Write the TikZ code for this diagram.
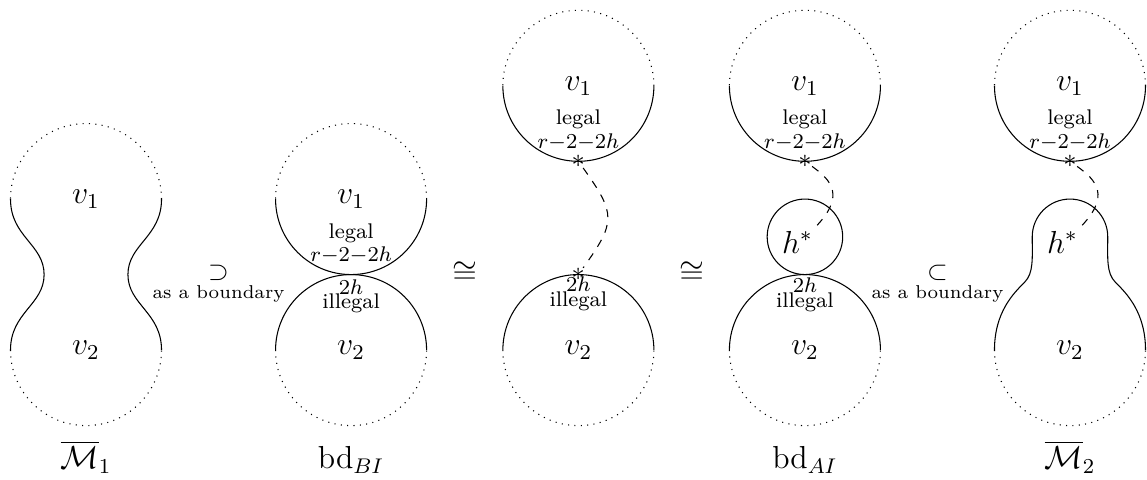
\documentclass[tikz,border=0pt]{standalone}
\usepackage{amsmath}
\usepackage{amssymb}
\usepackage{tikz}
\usetikzlibrary{calc}

\begin{document}
\begin{tikzpicture}[
  bnd/.style    = {dotted},
  link/.style   = {dashed},
  vtx/.style    = {font=\large, inner sep=1pt},
  lbl/.style    = {font=\footnotesize, inner sep=0pt},
  ast/.style    = {inner sep=0pt},
  hst/.style    = {font=\large, inner sep=0pt},
  rel/.style    = {anchor=base, inner sep=0pt},
  figname/.style = {font=\large, anchor=base, inner sep=0pt}
]
\useasboundingbox (-1.139,-1.709) rectangle (14.05,4.636);

% M_1
\draw[bnd] (1,2) arc (0:180:1);
\draw[bnd] (-1,0) arc (180:360:1);
\draw (-1,2) .. controls (-1,1.5) and (-0.555,1.4) .. (-0.555,1)
             .. controls (-0.555,0.6) and (-1,0.5) .. (-1,0);
\draw (1,2) .. controls (1,1.5) and (0.555,1.4) .. (0.555,1)
            .. controls (0.555,0.6) and (1,0.5) .. (1,0);
\node[vtx] (v1a) at (0,2) {$v_1$};
\node[vtx] (v2a) at (0,0) {$v_2$};
\node[figname] (m1) at (0,-1.57) {$\overline{\mathcal{M}}_1$};

\node[rel] (sup1) at (1.755,0.93) {$\underset{\text{as a boundary}}{\supset}$};

% bd_BI
\draw[bnd] (4.51,2) arc (0:180:1);
\draw (2.51,2) arc (180:360:1);
\draw (2.51,0) arc (180:0:1);
\draw[bnd] (2.51,0) arc (180:360:1);
\node[vtx] (v1b) at (3.51,2) {$v_1$};
\node[vtx] (v2b) at (3.51,0) {$v_2$};
\node[lbl] (legb) at (3.51,1.54) {legal};
\node[lbl] (rb) at (3.51,1.26) {$r{-}2{-}2h$};
\node[lbl] (hb) at (3.51,0.84) {$2h$};
\node[lbl] (illb) at (3.51,0.62) {illegal};
\node[figname] (bdbi) at (3.51,-1.57) {$\mathrm{bd}_{BI}$};

\node[vtx] (iso1) at (5.015,1.02) {$\cong$};

% middle
\draw[bnd] (7.52,3.5) arc (0:180:1);
\draw (5.52,3.5) arc (180:360:1);
\draw (5.52,0) arc (180:0:1);
\draw[bnd] (5.52,0) arc (180:360:1);
\node[vtx] (v1c) at (6.52,3.5) {$v_1$};
\node[vtx] (v2c) at (6.52,0) {$v_2$};
\node[lbl] (legc) at (6.52,3.05) {legal};
\node[lbl] (rc) at (6.52,2.75) {$r{-}2{-}2h$};
\node[lbl] (hc) at (6.52,0.87) {$2h$};
\node[lbl] (illc) at (6.52,0.65) {illegal};
\node[ast] (sc1) at (6.52,2.5) {$*$};
\node[ast] (sc2) at (6.52,1) {$*$};
\draw[link] (sc1) .. controls +(0.5,-0.7) and +(0.5,0.7) .. (sc2);

\node[vtx] (iso2) at (8.02,1.02) {$\cong$};

% bd_AI
\draw[bnd] (10.52,3.5) arc (0:180:1);
\draw (8.52,3.5) arc (180:360:1);
\draw (8.52,0) arc (180:0:1);
\draw[bnd] (8.52,0) arc (180:360:1);
\draw (9.52,1.5) circle (0.5);
\node[vtx] (v1d) at (9.52,3.5) {$v_1$};
\node[vtx] (v2d) at (9.52,0) {$v_2$};
\node[lbl] (legd) at (9.52,3.06) {legal};
\node[lbl] (rd) at (9.52,2.75) {$r{-}2{-}2h$};
\node[lbl] (hd) at (9.52,0.86) {$2h$};
\node[lbl] (illd) at (9.52,0.63) {illegal};
\node[hst] (hd1) at (9.42,1.43) {$h^*$};
\node[ast] (sd) at (9.52,2.5) {$*$};
\coordinate (ed) at (9.64,1.61);
\draw[link] (sd) .. controls +(0.35,-0.25) and +(0.43,0.43) .. (ed);
\node[figname] (bdai) at (9.52,-1.57) {$\mathrm{bd}_{AI}$};

\node[rel] (sub1) at (11.275,0.93) {$\underset{\text{as a boundary}}{\subset}$};

% M_2
\draw[bnd] (14.03,3.5) arc (0:180:1);
\draw (12.03,3.5) arc (180:360:1);
\draw[bnd] (12.03,0) arc (180:360:1);
\draw (12.03,0) .. controls (12.03,0.5) and (12.28,0.75) .. (12.43,0.9)
      .. controls (12.55,1.02) and (12.53,1.22) .. (12.53,1.5)
      arc (180:0:0.5)
      .. controls (13.53,1.22) and (13.51,1.02) .. (13.63,0.9)
      .. controls (13.78,0.75) and (14.03,0.5) .. (14.03,0);
\node[vtx] (v1e) at (13.03,3.5) {$v_1$};
\node[vtx] (v2e) at (13.03,0) {$v_2$};
\node[lbl] (lege) at (13.03,3.06) {legal};
\node[lbl] (re) at (13.03,2.75) {$r{-}2{-}2h$};
\node[hst] (he1) at (12.93,1.43) {$h^*$};
\node[ast] (se) at (13.03,2.5) {$*$};
\coordinate (ee) at (13.15,1.61);
\draw[link] (se) .. controls +(0.35,-0.25) and +(0.43,0.43) .. (ee);
\node[figname] (m2) at (13.03,-1.57) {$\overline{\mathcal{M}}_2$};

\end{tikzpicture}
\end{document}
